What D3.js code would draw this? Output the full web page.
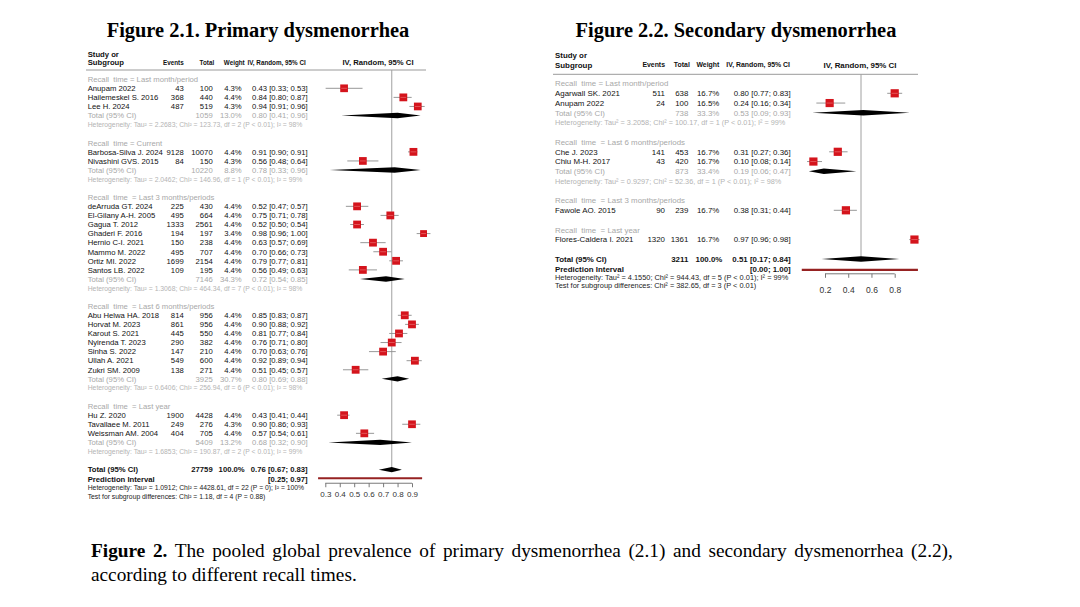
<!DOCTYPE html>
<html><head><meta charset="utf-8">
<script src="https://cdn.jsdelivr.net/npm/d3@7"></script>
<style>body{margin:0;background:#fff}svg{display:block}text{white-space:pre}</style>
</head><body><svg id="c" width="1080" height="607"></svg>
<script>
// ================= DATA: Figure 2.1 Primary dysmenorrhea =================
const groupsP = ["Recall  time = Last month/period", "Recall  time = Current", "Recall  time  = Last 3 months/periods", "Recall  time  = Last 6 months/periods", "Recall  time  = Last year"];
const studyP = ["Anupam 2022", "Hailemeskel S. 2016", "Lee H. 2024",
  "Barbosa-Silva J. 2024", "Nivashini GVS. 2015",
  "deArruda GT. 2024", "El-Gilany A-H. 2005", "Gagua T. 2012", "Ghaderi F. 2016", "Hernio C-I. 2021", "Mammo M. 2022", "Ortiz MI. 2022", "Santos LB. 2022",
  "Abu Helwa HA. 2018", "Horvat M. 2023", "Karout S. 2021", "Nyirenda T. 2023", "Sinha S. 2022", "Ullah A. 2021", "Zukri SM. 2009",
  "Hu Z. 2020", "Tavallaee M. 2011", "Weissman AM. 2004"];
const groupOfP = [0,0,0, 1,1, 2,2,2,2,2,2,2,2, 3,3,3,3,3,3,3, 4,4,4];
const eventsP = [43,368,487, 9128,84, 225,495,1333,194,150,495,1699,109, 814,861,445,290,147,549,138, 1900,249,404];
const totalP  = [100,440,519, 10070,150, 430,664,2561,197,238,707,2154,195, 956,956,550,382,210,600,271, 4428,276,705];
const weightP = [4.3,4.4,4.3, 4.4,4.3, 4.4,4.4,4.4,3.4,4.4,4.4,4.4,4.4, 4.4,4.4,4.4,4.4,4.4,4.4,4.4, 4.4,4.3,4.4];
const estP = [0.43,0.84,0.94, 0.91,0.56, 0.52,0.75,0.52,0.98,0.63,0.70,0.79,0.56, 0.85,0.90,0.81,0.76,0.70,0.92,0.51, 0.43,0.90,0.57];
const loP  = [0.33,0.80,0.91, 0.90,0.48, 0.47,0.71,0.50,0.96,0.57,0.66,0.77,0.49, 0.83,0.88,0.77,0.71,0.63,0.89,0.45, 0.41,0.86,0.54];
const hiP  = [0.53,0.87,0.96, 0.91,0.64, 0.57,0.78,0.54,1.00,0.69,0.73,0.81,0.63, 0.87,0.92,0.84,0.80,0.76,0.94,0.57, 0.44,0.93,0.61];
const subTotalP  = [1059, 10220, 7146, 3925, 5409];
const subWeightP = [13.0, 8.8, 34.3, 30.7, 13.2];
const subEstP = [0.80, 0.78, 0.72, 0.80, 0.68];
const subLoP  = [0.41, 0.33, 0.54, 0.69, 0.32];
const subHiP  = [0.96, 0.96, 0.85, 0.88, 0.90];
const hetP = [
  "Heterogeneity: Tau² = 2.2683; Chi² = 123.73, df = 2 (P < 0.01); I² = 98%",
  "Heterogeneity: Tau² = 2.0462; Chi² = 146.96, df = 1 (P < 0.01); I² = 99%",
  "Heterogeneity: Tau² = 1.3068; Chi² = 464.34, df = 7 (P < 0.01); I² = 98%",
  "Heterogeneity: Tau² = 0.6406; Chi² = 256.94, df = 6 (P < 0.01); I² = 98%",
  "Heterogeneity: Tau² = 1.6853; Chi² = 190.87, df = 2 (P < 0.01); I² = 99%"];
const overallP = [27759, 100.0, 0.76, 0.67, 0.83];
const predP = [0.25, 0.97];
const hetAllP = "Heterogeneity: Tau² = 1.0912; Chi² = 4428.61, df = 22 (P = 0); I² = 100%";
const testP = "Test for subgroup differences: Chi² = 1.18, df = 4 (P = 0.88)";
const ticksP = [0.3, 0.4, 0.5, 0.6, 0.7, 0.8, 0.9];

// ================= DATA: Figure 2.2 Secondary dysmenorrhea =================
const groupsS = ["Recall  time = Last month/period", "Recall  time  = Last 6 months/periods", "Recall  time  = Last 3 months/periods", "Recall  time  = Last year"];
const studyS = ["Agarwall SK. 2021", "Anupam 2022", "Che J. 2023", "Chiu M-H. 2017", "Fawole AO. 2015", "Flores-Caldera I. 2021"];
const groupOfS = [0,0, 1,1, 2, 3];
const eventsS = [511, 24, 141, 43, 90, 1320];
const totalS  = [638, 100, 453, 420, 239, 1361];
const weightS = [16.7, 16.5, 16.7, 16.7, 16.7, 16.7];
const estS = [0.80, 0.24, 0.31, 0.10, 0.38, 0.97];
const loS  = [0.77, 0.16, 0.27, 0.08, 0.31, 0.96];
const hiS  = [0.83, 0.34, 0.36, 0.14, 0.44, 0.98];
const subTotalS  = [738, 873, null, null];
const subWeightS = [33.3, 33.4, null, null];
const subEstS = [0.53, 0.19, null, null];
const subLoS  = [0.09, 0.06, null, null];
const subHiS  = [0.93, 0.47, null, null];
const hetS = [
  "Heterogeneity: Tau² = 3.2058; Chi² = 100.17, df = 1 (P < 0.01); I² = 99%",
  "Heterogeneity: Tau² = 0.9297; Chi² = 52.36, df = 1 (P < 0.01); I² = 98%", null, null];
const overallS = [3211, 100.0, 0.51, 0.17, 0.84];
const predS = [0.00, 1.00];
const hetAllS = "Heterogeneity: Tau² = 4.1550; Chi² = 944.43, df = 5 (P < 0.01); I² = 99%";
const testS = "Test for subgroup differences: Chi² = 382.65, df = 3 (P < 0.01)";
const ticksS = [0.2, 0.4, 0.6, 0.8];

const titles = ["Figure 2.1. Primary dysmenorrhea", "Figure 2.2. Secondary dysmenorrhea"];
const captionBold = "Figure 2.";
const captionLine1 = " The pooled global prevalence of primary dysmenorrhea (2.1) and secondary dysmenorrhea (2.2),";
const captionLine2 = "according to different recall times.";

// ================= DRAWING =================
const svg = d3.select("#c");
svg.append("rect").attr("width", 1080).attr("height", 607).attr("fill", "#fff");
const SANS = "'Liberation Sans', Arial, sans-serif";
const SERIF = "'Liberation Serif', 'Times New Roman', serif";
const GRAY = "#a8a8a8";
const f2 = d3.format(".2f"), f1 = d3.format(".1f");
const ci = (e, l, h) => `${f2(e)} [${f2(l)}; ${f2(h)}]`;

function txt(g, x, y, s, o = {}) {
  const size = o.size || 7.7;
  return g.append("text").attr("x", x).attr("y", y + size * 0.36)
    .attr("font-family", o.family || SANS).attr("font-size", size)
    .attr("font-weight", o.bold ? "bold" : "normal")
    .attr("text-anchor", o.anchor || "start").attr("fill", o.fill || "#111").text(s);
}

function panel(c) {
  const g = svg.append("g");
  const rows = [];
  c.groups.forEach((gl, gi) => {
    rows.push({ t: "group", gi });
    c.groupOf.forEach((v, i) => { if (v === gi) rows.push({ t: "study", i }); });
    if (c.subTotal[gi] != null) { rows.push({ t: "sub", gi }); rows.push({ t: "het", gi }); }
    rows.push({ t: "blank" });
  });
  rows.push({ t: "overall" }, { t: "pred" }, { t: "hetAll" }, { t: "test" });
  const predIdx = rows.findIndex(r => r.t === "pred");
  const yMain = d3.scaleLinear().domain([0, 1]).range([c.y0, c.y0 + c.rh]);
  const yTail = d3.scaleLinear().domain([predIdx, predIdx + 1]).range([yMain(predIdx), yMain(predIdx) + c.tailRh]);
  const y = k => (k > predIdx ? yTail(k) : yMain(k));
  const x = d3.scaleLinear().domain(c.xDomain).range(c.xRange);
  const sq = d3.scaleSqrt().domain([0, c.wRef]).range([0, c.sqRef]);

  // header
  txt(g, c.nameX, c.hY1, "Study or", { bold: true, size: c.fs });
  txt(g, c.nameX, c.hY2, "Subgroup", { bold: true, size: c.fs });
  txt(g, c.colEv, c.hY2, "Events", { bold: true, size: c.hfs, anchor: "end" });
  txt(g, c.colTot + 1.5, c.hY2, "Total", { bold: true, size: c.hfs, anchor: "end" });
  txt(g, c.colWh, c.hY2, "Weight", { bold: true, size: c.hfs, anchor: "end" });
  txt(g, c.colCIh, c.hY2, "IV, Random, 95% CI", { bold: true, size: c.hfs, anchor: "end" });
  txt(g, c.plotHX, c.hY2, "IV, Random, 95% CI", { bold: true, size: c.fs, anchor: "middle" });
  g.append("line").attr("x1", c.lineX1).attr("x2", c.lineX2).attr("y1", c.hLine).attr("y2", c.hLine)
    .attr("stroke", "#9a9a9a").attr("stroke-width", 1);

  const ovIdx = rows.findIndex(r => r.t === "overall");
  g.append("line").attr("x1", x(c.overall[2])).attr("x2", x(c.overall[2]))
    .attr("y1", c.hLine).attr("y2", y(ovIdx) - 2).attr("stroke", "#a0a0a0").attr("stroke-width", 1);

  const diamond = (e, l, h, yy) => g.append("path")
    .attr("d", `M${x(l)},${yy}L${x(e)},${yy - c.dh}L${x(h)},${yy}L${x(e)},${yy + c.dh}Z`).attr("fill", "#000");

  rows.forEach((r, k) => {
    const yy = y(k);
    if (r.t === "group") {
      txt(g, c.nameX, yy, c.groups[r.gi], { fill: GRAY, size: c.fs });
    } else if (r.t === "study") {
      const i = r.i;
      txt(g, c.nameX, yy, c.study[i], { size: c.fs });
      txt(g, c.colEv, yy, c.events[i], { size: c.fs, anchor: "end" });
      txt(g, c.colTot, yy, c.total[i], { size: c.fs, anchor: "end" });
      txt(g, c.colW, yy, f1(c.weight[i]) + "%", { size: c.fs, anchor: "end" });
      txt(g, c.colCI, yy, ci(c.est[i], c.lo[i], c.hi[i]), { size: c.fs, anchor: "end" });
      g.append("line").attr("x1", x(c.lo[i]) - 4).attr("x2", x(c.hi[i]) + 4).attr("y1", yy).attr("y2", yy)
        .attr("stroke", "#8c8c8c").attr("stroke-width", 0.9);
      const s = sq(c.weight[i]);
      g.append("rect").attr("x", x(c.est[i]) - s / 2).attr("y", yy - s / 2).attr("width", s).attr("height", s)
        .attr("fill", "#d4141c");
      g.append("line").attr("x1", x(c.est[i]) - s / 2 + 1).attr("x2", x(c.est[i]) + s / 2 - 1).attr("y1", yy).attr("y2", yy)
        .attr("stroke", "#f08080").attr("stroke-width", 0.6);
    } else if (r.t === "sub") {
      const gi = r.gi;
      txt(g, c.nameX, yy, "Total (95% CI)", { fill: GRAY, size: c.fs });
      txt(g, c.colTot, yy, c.subTotal[gi], { fill: GRAY, size: c.fs, anchor: "end" });
      txt(g, c.colW, yy, f1(c.subWeight[gi]) + "%", { fill: GRAY, size: c.fs, anchor: "end" });
      txt(g, c.colCI, yy, ci(c.subEst[gi], c.subLo[gi], c.subHi[gi]), { fill: GRAY, size: c.fs, anchor: "end" });
      diamond(c.subEst[gi], c.subLo[gi], c.subHi[gi], yy);
    } else if (r.t === "het") {
      txt(g, c.nameX, yy, c.het[r.gi], { fill: "#b4b4b4", size: c.sfs });
    } else if (r.t === "overall") {
      txt(g, c.nameX, yy, "Total (95% CI)", { bold: true, size: c.fs });
      txt(g, c.colTot, yy, c.overall[0], { bold: true, size: c.fs, anchor: "end" });
      txt(g, c.colW + 3, yy, f1(c.overall[1]) + "%", { bold: true, size: c.fs, anchor: "end" });
      txt(g, c.colCI, yy, ci(c.overall[2], c.overall[3], c.overall[4]), { bold: true, size: c.fs, anchor: "end" });
      diamond(c.overall[2], c.overall[3], c.overall[4], yy);
    } else if (r.t === "pred") {
      txt(g, c.nameX, yy, "Prediction Interval", { bold: true, size: c.fs });
      txt(g, c.colCI, yy, `[${f2(c.pred[0])}; ${f2(c.pred[1])}]`, { bold: true, size: c.fs, anchor: "end" });
      g.append("line").attr("x1", x(c.pred[0])).attr("x2", x(c.pred[1])).attr("y1", yy + c.predOff).attr("y2", yy + c.predOff)
        .attr("stroke", "#962222").attr("stroke-width", 2.2);
    } else if (r.t === "hetAll") {
      txt(g, c.nameX, yy, c.hetAll, { size: c.sfs2, fill: "#222" });
    } else if (r.t === "test") {
      txt(g, c.nameX, yy, c.test, { size: c.sfs2, fill: "#222" });
    }
  });

  // axis
  const ax = g.append("g").attr("transform", `translate(0,${y(predIdx) + c.predOff + c.axOff})`)
    .call(d3.axisBottom(x).tickValues(c.ticks).tickSize(c.tickLen).tickSizeOuter(0).tickPadding(c.tickPad).tickFormat(d3.format(".1f")));
  ax.select(".domain").attr("stroke", "#6a6a6a").attr("stroke-width", 0.9)
    .attr("d", `M${x(c.ticks[0])},0H${x(c.ticks[c.ticks.length - 1])}`);
  ax.selectAll(".tick line").attr("stroke", "#6a6a6a").attr("stroke-width", 0.9);
  ax.selectAll(".tick text").attr("font-family", SANS).attr("font-size", c.tfs).attr("fill", "#333");
}

panel({
  groups: groupsP, study: studyP, groupOf: groupOfP, events: eventsP, total: totalP, weight: weightP,
  est: estP, lo: loP, hi: hiP, subTotal: subTotalP, subWeight: subWeightP, subEst: subEstP, subLo: subLoP, subHi: subHiP,
  het: hetP, overall: overallP, pred: predP, hetAll: hetAllP, test: testP, ticks: ticksP,
  y0: 79.22, rh: 9.08, tailRh: 9.08, xDomain: [0.3, 0.9], xRange: [325.3, 412],
  nameX: 87.7, colEv: 183.7, colTot: 212.7, colW: 241.7, colWh: 244.7, colCI: 307.7, colCIh: 305.7,
  hY1: 54, hY2: 62.7, hLine: 70, lineX1: 86, lineX2: 426, plotHX: 378,
  fs: 7.7, hfs: 6.3, sfs: 6.8, sfs2: 6.8, tfs: 8, wRef: 4.4, sqRef: 7.8, dh: 2.7, predOff: -0.5, axOff: 5, tickLen: 4, tickPad: 4
});

panel({
  groups: groupsS, study: studyS, groupOf: groupOfS, events: eventsS, total: totalS, weight: weightS,
  est: estS, lo: loS, hi: hiS, subTotal: subTotalS, subWeight: subWeightS, subEst: subEstS, subLo: subLoS, subHi: subHiS,
  het: hetS, overall: overallS, pred: predS, hetAll: hetAllS, test: testS, ticks: ticksS,
  y0: 83.55, rh: 9.75, tailRh: 8.2, xDomain: [0.2, 0.8], xRange: [825, 894.7],
  nameX: 555, colEv: 665, colTot: 688.3, colW: 719.3, colWh: 719.3, colCI: 790.7, colCIh: 790,
  hY1: 55, hY2: 65, hLine: 74.3, lineX1: 553, lineX2: 918, plotHX: 860,
  fs: 7.9, hfs: 6.9, sfs: 7.3, sfs2: 7.4, tfs: 8.5, wRef: 16.7, sqRef: 8.2, dh: 2.7, predOff: 1, axOff: 4, tickLen: 4, tickPad: 9
});

// titles
svg.append("text").attr("x", 258).attr("y", 37).attr("text-anchor", "middle")
  .attr("font-family", SERIF).attr("font-weight", "bold").attr("font-size", 20.4).attr("fill", "#000").text(titles[0]);
svg.append("text").attr("x", 736).attr("y", 37).attr("text-anchor", "middle")
  .attr("font-family", SERIF).attr("font-weight", "bold").attr("font-size", 20.4).attr("fill", "#000").text(titles[1]);

// caption (first line justified)
const cap = svg.append("text").attr("x", 91).attr("y", 557).attr("font-family", SERIF).attr("font-size", 19.3)
  .attr("fill", "#000").attr("word-spacing", 2.8);
cap.append("tspan").attr("font-weight", "bold").text(captionBold);
cap.append("tspan").text(captionLine1);
svg.append("text").attr("x", 91).attr("y", 581).attr("font-family", SERIF).attr("font-size", 19.3).attr("fill", "#000").text(captionLine2);
</script></body></html>
